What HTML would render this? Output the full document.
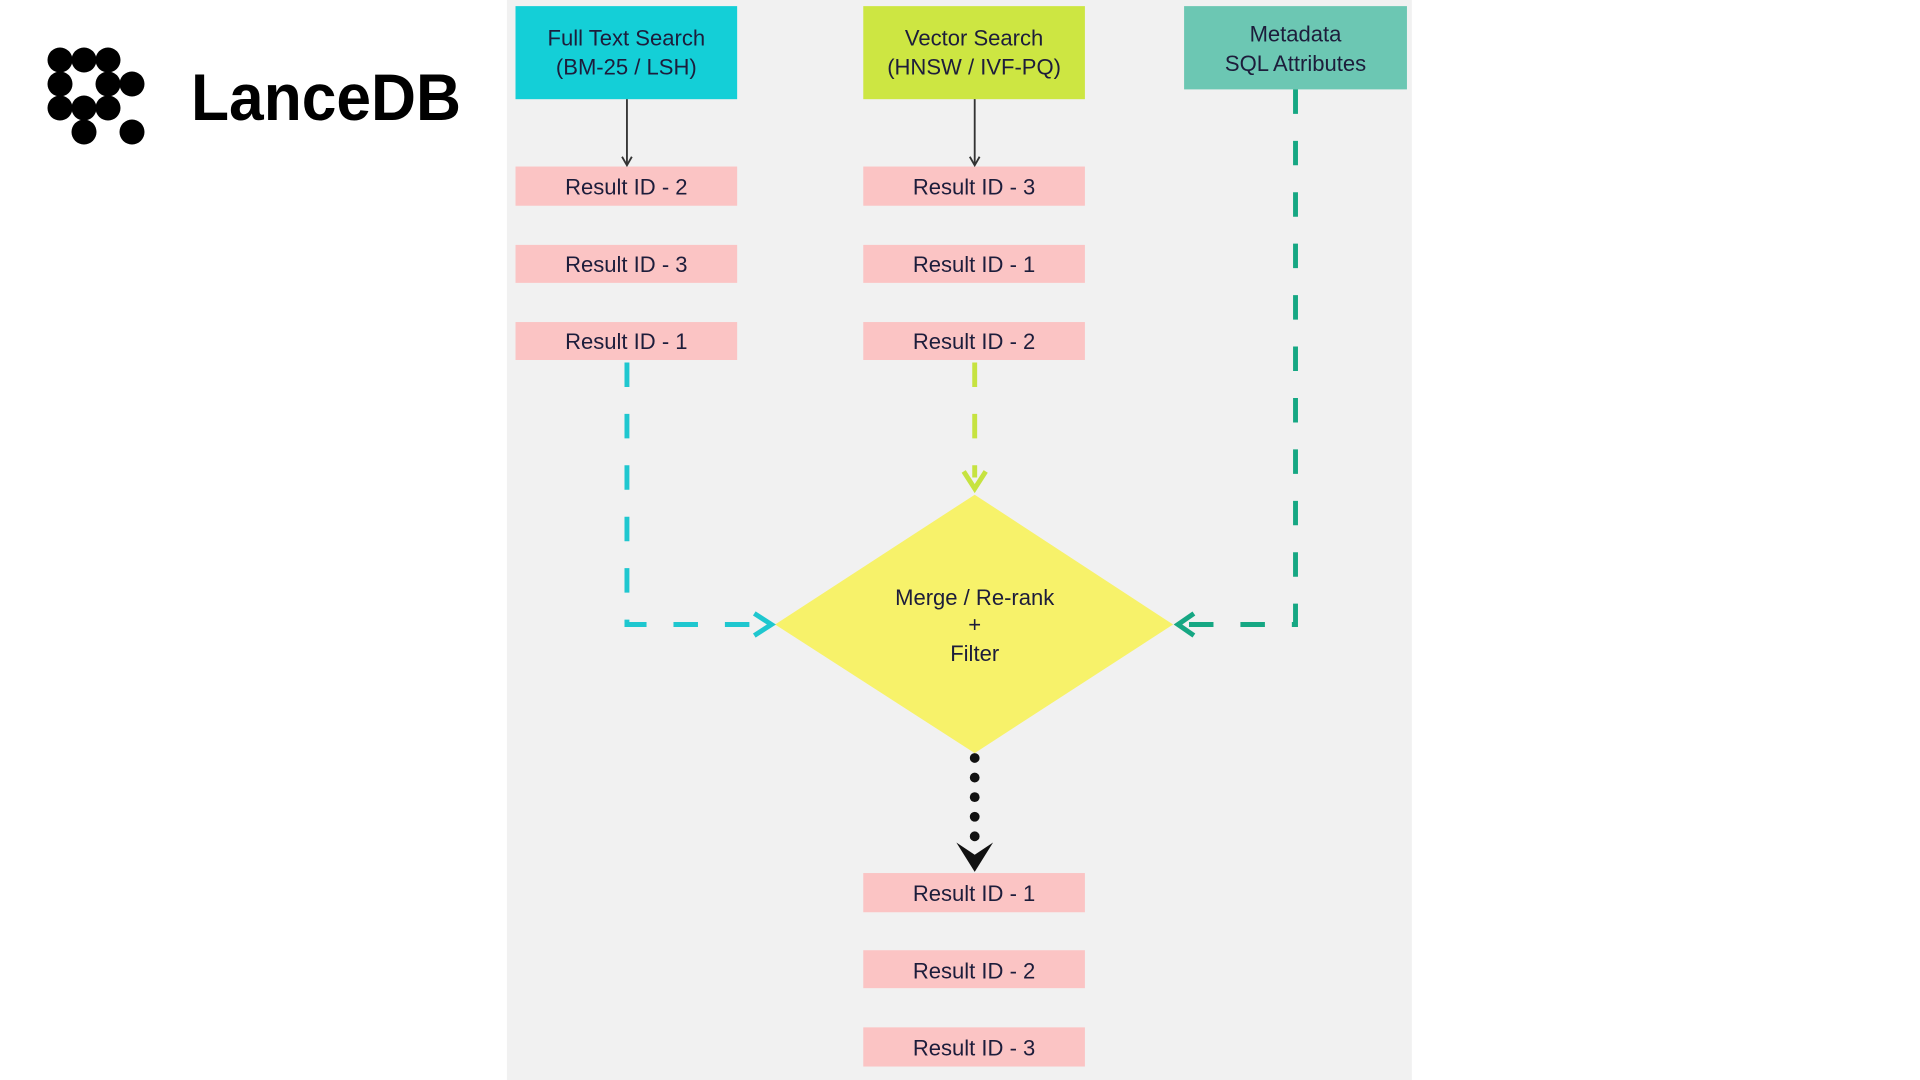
<!DOCTYPE html>
<html><head><meta charset="utf-8"><style>
html,body{margin:0;padding:0;background:#fff;width:1920px;height:1080px;overflow:hidden}
text{font-family:"Liberation Sans",sans-serif}
</style></head><body>
<svg width="1920" height="1080" viewBox="0 0 1920 1080" xmlns="http://www.w3.org/2000/svg">
<rect width="1920" height="1080" fill="#fff"/>
<g fill="#000">
<circle cx="60" cy="60" r="12.5"/><circle cx="84" cy="60" r="12.5"/><circle cx="108" cy="60" r="12.5"/>
<circle cx="60" cy="84" r="12.5"/><circle cx="108" cy="84" r="12.5"/><circle cx="132" cy="84" r="12.5"/>
<circle cx="60" cy="108" r="12.5"/><circle cx="84" cy="108" r="12.5"/><circle cx="108" cy="108" r="12.5"/>
<circle cx="84" cy="132" r="12.5"/><circle cx="132" cy="132" r="12.5"/>
</g>
<text x="191" y="120" font-size="66" font-weight="bold" textLength="270" lengthAdjust="spacingAndGlyphs" fill="#000">LanceDB</text>
<g transform="scale(1.2245)">
<rect x="414" y="0" width="739" height="882" fill="#f1f1f1"/>
<g font-size="18" fill="#1d1d3b" text-anchor="middle">
<rect x="421" y="5" width="181" height="76" fill="#14cfd7"/>
<text x="511.5" y="37">Full Text Search</text><text x="511.5" y="61">(BM-25 / LSH)</text>
<rect x="705" y="5" width="181" height="76" fill="#cde642"/>
<text x="795.5" y="37">Vector Search</text><text x="795.5" y="61">(HNSW / IVF-PQ)</text>
<rect x="967" y="5" width="182" height="68" fill="#6cc7b3"/>
<text x="1058" y="34">Metadata</text><text x="1058" y="58">SQL Attributes</text>
<g fill="#fbc4c4">
<rect x="421" y="136" width="181" height="32"/><rect x="421" y="200" width="181" height="31"/><rect x="421" y="263" width="181" height="31"/>
<rect x="705" y="136" width="181" height="32"/><rect x="705" y="200" width="181" height="31"/><rect x="705" y="263" width="181" height="31"/>
<rect x="705" y="713" width="181" height="32"/><rect x="705" y="776" width="181" height="31"/><rect x="705" y="839" width="181" height="32"/>
</g>
<text x="511.5" y="159">Result ID - 2</text><text x="511.5" y="222">Result ID - 3</text><text x="511.5" y="285">Result ID - 1</text>
<text x="795.5" y="159">Result ID - 3</text><text x="795.5" y="222">Result ID - 1</text><text x="795.5" y="285">Result ID - 2</text>
<text x="795.5" y="736">Result ID - 1</text><text x="795.5" y="799">Result ID - 2</text><text x="795.5" y="862">Result ID - 3</text>
</g>
<g stroke="#333" stroke-width="1.5" fill="none">
<line x1="512" y1="81" x2="512" y2="134"/><path d="M508 128 L512 135 L516 128"/>
<line x1="796" y1="81" x2="796" y2="134"/><path d="M792 128 L796 135 L800 128"/>
</g>
<polygon points="796,404 958,510 796,615 633,510" fill="#f7f26a"/>
<g font-size="18" fill="#1d1d3b" text-anchor="middle">
<text x="796" y="494">Merge / Re-rank</text><text x="796" y="516">+</text><text x="796" y="540">Filter</text>
</g>
<g fill="none" stroke-width="4">
<path d="M512 296 L512 510 L620 510" stroke="#1fc7cf" stroke-dasharray="20 22"/>
<path d="M616 501 L630 510 L616 519" stroke="#1fc7cf"/>
<path d="M796 296 L796 390" stroke="#c6e340" stroke-dasharray="20 22"/>
<path d="M787 385 L796 399 L805 385" stroke="#c6e340"/>
<path d="M1058 73 L1058 510 L970 510" stroke="#16a783" stroke-dasharray="20 22"/>
<path d="M975 501 L962 510 L975 519" stroke="#16a783"/>
</g>
<g fill="#111">
<circle cx="796" cy="619" r="4"/><circle cx="796" cy="635" r="4"/><circle cx="796" cy="651" r="4"/><circle cx="796" cy="667" r="4"/><circle cx="796" cy="683" r="4"/>
<path d="M781 688 L796 712 L811 688 L796 698 Z"/>
</g>
</g>
</svg>
</body></html>
